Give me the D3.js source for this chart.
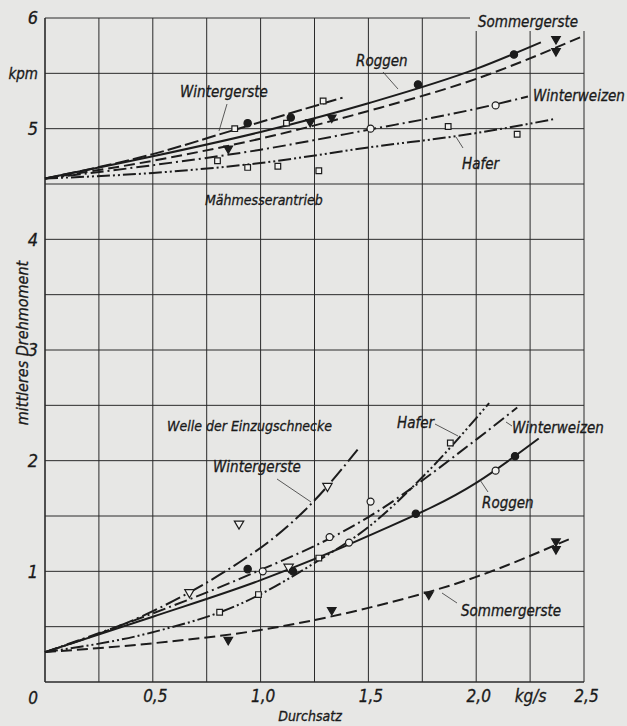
<!DOCTYPE html>
<html>
<head>
<meta charset="utf-8">
<script src="https://cdn.jsdelivr.net/npm/d3@7"></script>
<style>
  html, body { margin: 0; padding: 0; background: #e7e7e5; }
  svg { display: block; }
  text { font-family: 'DejaVu Sans Condensed', 'DejaVu Sans', sans-serif; font-style: italic; fill: #1a1a1a; stroke: #1a1a1a; stroke-width: 0.3px; }
</style>
</head>
<body>
<svg id="root" width="627" height="726"></svg>
<script>
const width = 627
const height = 726

// axes
const xTicks = [0.5, 1, 1.5, 2, 2.25, 2.5]
const xTickLabels = ['0,5', '1,0', '1,5', '2,0', 'kg/s', '2,5']
const yTicks = [1, 2, 3, 4, 5, 5.5, 6]
const yTickLabels = ['1', '2', '3', '4', '5', 'kpm', '6']

// Mähmesserantrieb (upper group) - curve points
const upWintergerste = [[0, 4.55], [0.5, 4.77], [0.88, 4.99], [1.38, 5.28]]
const upRoggen = [[0, 4.55], [0.5, 4.75], [1.0, 4.97], [1.5, 5.23], [2.0, 5.54], [2.3, 5.78]]
const upSommergerste = [[0, 4.55], [0.5, 4.71], [1.0, 4.91], [1.5, 5.16], [2.0, 5.45], [2.5, 5.84]]
const upWinterweizen = [[0, 4.55], [0.5, 4.67], [1.0, 4.81], [1.5, 4.99], [2.0, 5.18], [2.24, 5.29]]
const upHafer = [[0, 4.55], [0.5, 4.6], [1.0, 4.69], [1.5, 4.83], [2.0, 4.96], [2.37, 5.09]]

// measured points, upper group
const upWintergersteP = [[0.88, 5.0], [1.12, 5.05], [1.29, 5.25]]
const upRoggenP = [[0.94, 5.05], [1.14, 5.1], [1.73, 5.4], [2.175, 5.67]]
const upSommergersteP = [[0.85, 4.82], [1.23, 5.06], [1.33, 5.1], [2.37, 5.81], [2.37, 5.7]]
const upWinterweizenP = [[1.51, 5.0], [2.09, 5.21]]
const upHaferP = [[0.8, 4.71], [0.94, 4.65], [1.08, 4.66], [1.27, 4.62], [1.87, 5.02], [2.19, 4.95]]

// Welle der Einzugschnecke (lower group)
const loWintergerste = [[0, 0.27], [0.5, 0.64], [0.9, 1.08], [1.04, 1.27], [1.24, 1.62], [1.45, 2.1]]
const loHafer = [[0, 0.27], [0.5, 0.45], [0.9, 0.7], [1.27, 1.1], [1.5, 1.4], [1.75, 1.85], [2.06, 2.52]]
const loWinterweizen = [[0, 0.27], [0.5, 0.62], [0.9, 0.93], [1.5, 1.49], [2.0, 2.19], [2.19, 2.48]]
const loRoggen = [[0, 0.27], [0.5, 0.59], [1.0, 0.92], [1.5, 1.32], [2.0, 1.8], [2.29, 2.2]]
const loSommergerste = [[0, 0.27], [0.5, 0.35], [1.0, 0.47], [1.5, 0.67], [2.0, 0.95], [2.43, 1.29]]

const loWintergersteP = [[0.67, 0.81], [0.9, 1.43], [1.13, 1.04], [1.31, 1.77]]
const loHaferP = [[0.81, 0.63], [0.99, 0.79], [1.27, 1.12], [1.88, 2.16]]
const loWinterweizenP = [[1.01, 1.0], [1.32, 1.31], [1.41, 1.26], [1.51, 1.63], [2.09, 1.91]]
const loRoggenP = [[0.94, 1.02], [1.15, 1.0], [1.72, 1.52], [2.18, 2.04]]
const loSommergersteP = [[0.85, 0.38], [1.33, 0.65], [1.78, 0.79], [2.37, 1.27], [2.37, 1.2]]

const svg = d3.select('#root')
const ink = '#1c1c1c'

const xScale = d3.scaleLinear().domain([0, 2.5]).range([45, 584])
const yScale = d3.scaleLinear().domain([0, 6]).range([682, 18])

// grid
const gridX = d3.range(0, 2.51, 0.25)
const gridY = d3.range(0, 6.01, 0.5)

svg.append('g')
  .selectAll('line')
  .data(gridX)
  .enter()
  .append('line')
  .attr('x1', d => xScale(d))
  .attr('x2', d => xScale(d))
  .attr('y1', yScale(6))
  .attr('y2', yScale(0))
  .attr('stroke', '#2a2a2a')
  .attr('stroke-width', d => d === 0 ? 1.6 : 1)

svg.append('g')
  .selectAll('line')
  .data(gridY)
  .enter()
  .append('line')
  .attr('x1', xScale(0))
  .attr('x2', xScale(2.5))
  .attr('y1', d => yScale(d))
  .attr('y2', d => yScale(d))
  .attr('stroke', '#2a2a2a')
  .attr('stroke-width', d => d === 0 ? 1.6 : 1)

// paper patch behind the top label
svg.append('rect')
  .attr('x', 470).attr('y', 0).attr('width', 125).attr('height', 31)
  .attr('fill', '#e7e7e5')

// tick labels via axes
const xAxis = d3.axisBottom(xScale)
  .tickValues(xTicks)
  .tickFormat((d, i) => xTickLabels[i])
  .tickSize(0)
  .tickPadding(8)

const yAxis = d3.axisLeft(yScale)
  .tickValues(yTicks)
  .tickFormat((d, i) => yTickLabels[i])
  .tickSize(0)
  .tickPadding(7)

const gx = svg.append('g')
  .attr('transform', `translate(0, ${yScale(0)})`)
  .call(xAxis)
gx.select('.domain').remove()
gx.selectAll('text')
  .style('font-size', '17px')
  .attr('fill', ink)
  .attr('dx', (d, i) => xTickLabels[i] === 'kg/s' ? 0 : 2)

const gy = svg.append('g')
  .attr('transform', `translate(${xScale(0)}, 0)`)
  .call(yAxis)
gy.select('.domain').remove()
gy.selectAll('text')
  .style('font-size', (d, i) => yTickLabels[i] === 'kpm' ? '15px' : '18px')
  .attr('fill', ink)

// origin label
svg.append('text')
  .attr('x', xScale(0) - 12)
  .attr('y', yScale(0) + 22)
  .attr('text-anchor', 'middle')
  .style('font-size', '17px')
  .text('0')

// axis titles
svg.append('text')
  .attr('x', 310)
  .attr('y', 721)
  .attr('text-anchor', 'middle')
  .style('font-size', '14px')
  .text('Durchsatz')

svg.append('text')
  .attr('transform', 'translate(28, 343) rotate(-90)')
  .attr('text-anchor', 'middle')
  .style('font-size', '16px')
  .text('mittleres Drehmoment')

// curves
const line = d3.line()
  .x(d => xScale(d[0]))
  .y(d => yScale(d[1]))
  .curve(d3.curveMonotoneX)

const dashes = {
  solid: null,
  dash: '11,5',
  longdash: '14,4',
  dashdot: '13,4,2,4',
  dashdotdot: '13,3,2,3,2,3'
}

const curves = [
  { pts: upWintergerste, dash: dashes.longdash },
  { pts: upRoggen, dash: dashes.solid },
  { pts: upSommergerste, dash: dashes.dash },
  { pts: upWinterweizen, dash: dashes.dashdot },
  { pts: upHafer, dash: dashes.dashdotdot },
  { pts: loWintergerste, dash: '16,4,2,4' },
  { pts: loHafer, dash: dashes.dashdotdot },
  { pts: loWinterweizen, dash: dashes.dashdot },
  { pts: loRoggen, dash: dashes.solid },
  { pts: loSommergerste, dash: dashes.dash }
]

svg.append('g')
  .selectAll('path')
  .data(curves)
  .enter()
  .append('path')
  .attr('d', d => line(d.pts))
  .attr('fill', 'none')
  .attr('stroke', ink)
  .attr('stroke-width', 2)
  .attr('stroke-dasharray', d => d.dash)

// markers
const markerSets = [
  { pts: upWintergersteP, type: d3.symbolSquare, size: 32, filled: false, rot: 0 },
  { pts: upRoggenP, type: d3.symbolCircle, size: 42, filled: true, rot: 0 },
  { pts: upSommergersteP, type: d3.symbolTriangle, size: 32, filled: true, rot: 180 },
  { pts: upWinterweizenP, type: d3.symbolCircle, size: 38, filled: false, rot: 0 },
  { pts: upHaferP, type: d3.symbolSquare, size: 32, filled: false, rot: 0 },
  { pts: loWintergersteP, type: d3.symbolTriangle, size: 38, filled: false, rot: 180 },
  { pts: loHaferP, type: d3.symbolSquare, size: 32, filled: false, rot: 0 },
  { pts: loWinterweizenP, type: d3.symbolCircle, size: 38, filled: false, rot: 0 },
  { pts: loRoggenP, type: d3.symbolCircle, size: 42, filled: true, rot: 0 },
  { pts: loSommergersteP, type: d3.symbolTriangle, size: 32, filled: true, rot: 180 }
]

markerSets.forEach(set => {
  svg.append('g')
    .selectAll('path')
    .data(set.pts)
    .enter()
    .append('path')
    .attr('d', d3.symbol().type(set.type).size(set.size))
    .attr('transform', d => `translate(${xScale(d[0])}, ${yScale(d[1])}) rotate(${set.rot})`)
    .attr('fill', set.filled ? ink : '#f2f2f0')
    .attr('stroke', ink)
    .attr('stroke-width', 1.2)
})

// curve labels
const labels = [
  { t: 'Sommergerste', x: 478, y: 27, s: 15 },
  { t: 'Roggen', x: 356, y: 66, s: 15 },
  { t: 'Wintergerste', x: 180, y: 97, s: 15 },
  { t: 'Winterweizen', x: 533, y: 101, s: 15 },
  { t: 'Hafer', x: 462, y: 169, s: 15 },
  { t: 'Mähmesserantrieb', x: 205, y: 205, s: 14 },
  { t: 'Welle der Einzugschnecke', x: 167, y: 431, s: 14 },
  { t: 'Wintergerste', x: 213, y: 472, s: 15 },
  { t: 'Hafer', x: 397, y: 428, s: 15 },
  { t: 'Winterweizen', x: 512, y: 433, s: 15 },
  { t: 'Roggen', x: 482, y: 508, s: 15 },
  { t: 'Sommergerste', x: 461, y: 616, s: 15 }
]

svg.append('g')
  .selectAll('text')
  .data(labels)
  .enter()
  .append('text')
  .attr('x', d => d.x)
  .attr('y', d => d.y)
  .style('font-size', d => d.s + 'px')
  .text(d => d.t)

// leader lines
const leaders = [
  [383, 72, 398, 89],
  [227, 104, 219, 131],
  [463, 148, 456, 137],
  [277, 479, 311, 502],
  [435, 424, 458, 436],
  [512, 426, 506, 422],
  [488, 492, 480, 480],
  [457, 603, 442, 593]
]

svg.append('g')
  .selectAll('line')
  .data(leaders)
  .enter()
  .append('line')
  .attr('x1', d => d[0])
  .attr('y1', d => d[1])
  .attr('x2', d => d[2])
  .attr('y2', d => d[3])
  .attr('stroke', '#333')
  .attr('stroke-width', 0.8)
</script>
</body>
</html>
